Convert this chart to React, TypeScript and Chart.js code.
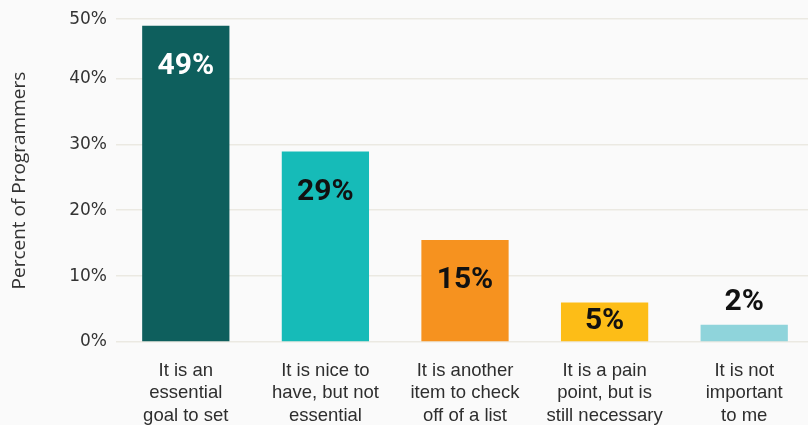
import React, { useEffect, useRef } from "react";
import { Chart, registerables } from "chart.js";

Chart.register(...registerables);

const categories: string[][] = [
  ["It is an", "essential", "goal to set"],
  ["It is nice to", "have, but not", "essential"],
  ["It is another", "item to check", "off of a list"],
  ["It is a pain", "point, but is", "still necessary"],
  ["It is not", "important", "to me"],
];
const values: number[] = [48, 28.9, 15.5, 6.0, 2.6];
const valueLabels: string[] = ["49%", "29%", "15%", "5%", "2%"];
const barColors: string[] = ["#0e5f5d", "#16bbb8", "#f6921f", "#fdbd17", "#8fd4db"];
const labelColors: string[] = ["#ffffff", "#111111", "#111111", "#111111", "#111111"];
const yTitle = "Percent of Programmers";
const yMax = 49;

const bgPlugin = {
  id: "bg",
  beforeDraw(chart: any) {
    const ctx = chart.ctx;
    ctx.save();
    ctx.fillStyle = "#fafafa";
    ctx.fillRect(0, 0, chart.width, chart.height);
    ctx.restore();
  },
};

const labelPlugin = {
  id: "valueLabels",
  afterDatasetsDraw(chart: any) {
    const ctx = chart.ctx;
    const meta = chart.getDatasetMeta(0);
    ctx.save();
    ctx.font = "bold 30px Roboto, 'Noto Sans', sans-serif";
    ctx.textAlign = "center";
    ctx.textBaseline = "middle";
    meta.data.forEach((bar: any, i: number) => {
      const top = bar.y;
      const base = bar.base;
      const h = base - top;
      let y: number;
      if (h > 80) y = top + 41;
      else if (h > 30) y = (top + base) / 2;
      else y = top - 22;
      ctx.fillStyle = labelColors[i];
      ctx.fillText(valueLabels[i], bar.x, y);
    });
    ctx.restore();
  },
};

export default function App() {
  const ref = useRef<HTMLCanvasElement | null>(null);
  useEffect(() => {
    if (!ref.current) return;
    const chart = new Chart(ref.current, {
      type: "bar",
      data: {
        labels: categories as any,
        datasets: [
          {
            data: values,
            backgroundColor: barColors,
            barPercentage: 0.625,
            categoryPercentage: 1,
          },
        ],
      },
      options: {
        animation: false,
        responsive: true,
        maintainAspectRatio: false,
        layout: { padding: { top: 16, right: 2, left: 0, bottom: 0 } },
        plugins: {
          legend: { display: false },
          tooltip: { enabled: false },
        },
        scales: {
          x: {
            grid: { display: false },
            border: { display: false },
            ticks: {
              color: "#2e2e2e",
              padding: 10,
              maxRotation: 0,
              autoSkip: false,
              font: {
                family: "'Liberation Sans', Arial, sans-serif",
                size: 18.5,
                lineHeight: 1.2,
              },
            },
            afterFit(scale: any) {
              scale.height = 83;
            },
          },
          y: {
            min: 0,
            max: yMax,
            border: { display: false },
            grid: { color: "#ebe9e2", lineWidth: 1.5, drawTicks: false },
            ticks: {
              stepSize: 10,
              padding: 9,
              color: "#333333",
              font: { family: "'DejaVu Sans', sans-serif", size: 17 },
              callback: (v: any) => Math.round(Number(v) / 10) * 10 + "%",
            },
            title: {
              display: true,
              text: yTitle,
              color: "#333333",
              padding: { top: 8, bottom: 0 },
              font: { family: "'Open Sans', sans-serif", size: 19 },
            },
            afterFit(scale: any) {
              scale.width = 116;
            },
          },
        },
      },
      plugins: [bgPlugin, labelPlugin],
    });
    return () => chart.destroy();
  }, []);
  return (
    <div
      style={{
        position: "fixed",
        left: 0,
        top: 0,
        width: 816,
        height: 425,
        background: "#fafafa",
      }}
    >
      <canvas ref={ref} />
    </div>
  );
}
